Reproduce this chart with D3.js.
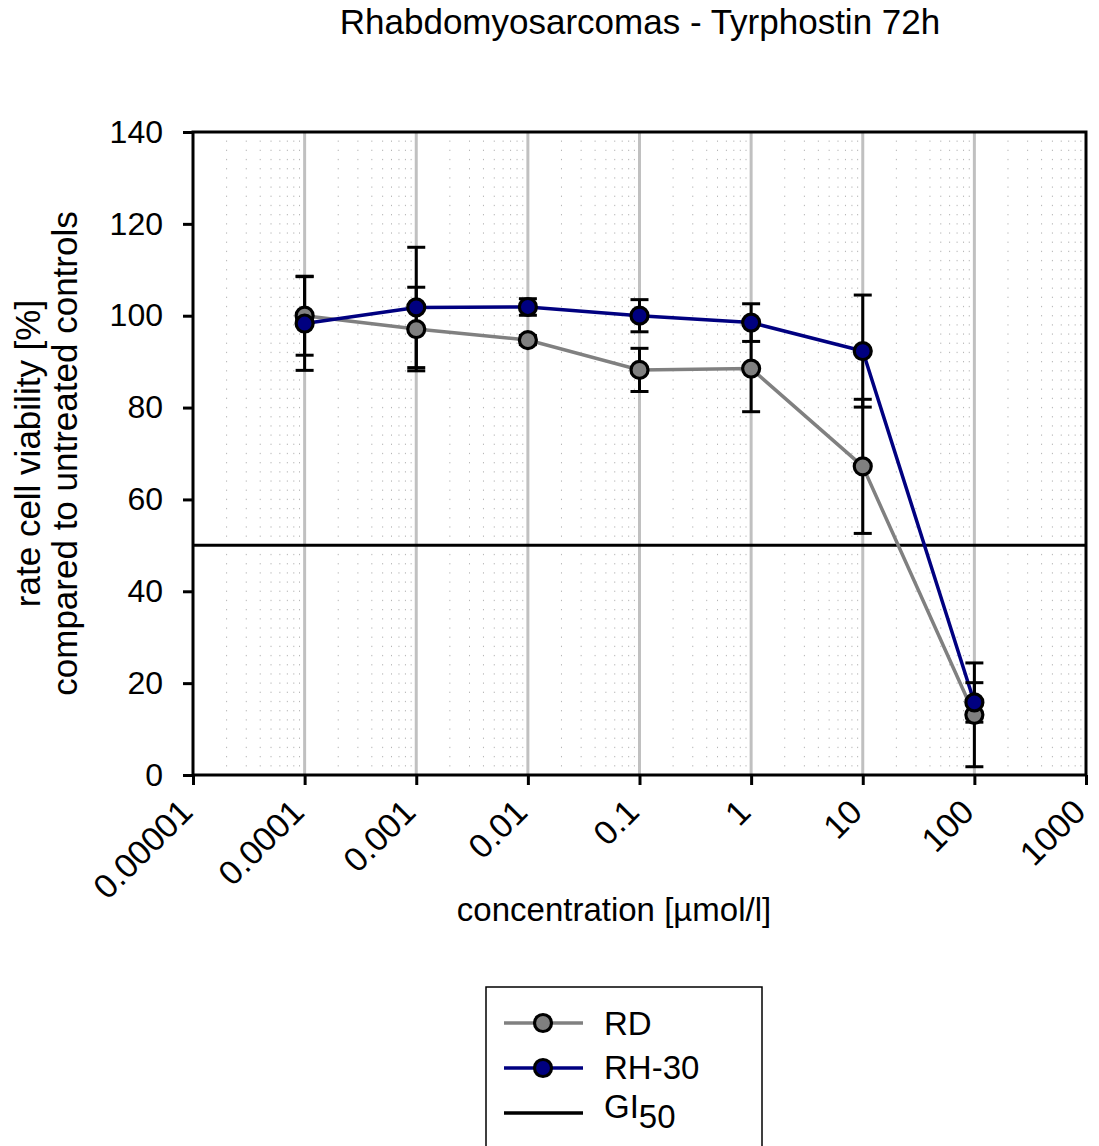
<!DOCTYPE html>
<html lang="en">
  <head>
    <meta charset="UTF-8" />
    <title>Rhabdomyosarcomas - Tyrphostin 72h</title>
    <script src="https://d3js.org/d3.v7.min.js"></script>
    <style>
      body {
        margin: 0;
        padding: 0;
        background: white;
        font-family: "Liberation Sans", Arial, sans-serif;
      }
      svg {
        display: block;
      }
      text {
        fill: black;
      }
    </style>
  </head>
  <body>
    <svg width="1099" height="1146"></svg>
    <script>
      // concentrations [µmol/l]
      const concentrations = [0.0001, 0.001, 0.01, 0.1, 1, 10, 100];
      const xTicks = [0.00001, 0.0001, 0.001, 0.01, 0.1, 1, 10, 100, 1000];
      const xTickLabels = ["0.00001", "0.0001", "0.001", "0.01", "0.1", "1", "10", "100", "1000"];
      const yTicks = [0, 20, 40, 60, 80, 100, 120, 140];

      const rdMean = [100.0, 97.1, 94.7, 88.2, 88.5, 67.2, 13.1];
      const rdErr = [8.6, 9.1, 1.0, 4.7, 9.4, 14.6, 11.3];
      const rh30Mean = [98.3, 101.8, 101.9, 100.0, 98.5, 92.3, 15.8];
      const rh30Err = [10.2, 13.1, 1.8, 3.5, 4.1, 12.2, 4.3];
      const gi50 = 50;

      const series = [
        { name: "RD", mean: rdMean, err: rdErr, color: "#808080" },
        { name: "RH-30", mean: rh30Mean, err: rh30Err, color: "#000080" },
      ];

      const svg = d3.select("svg");
      const plotLeft = 193,
        plotRight = 1086,
        plotTop = 132,
        plotBottom = 775;

      const x = d3.scaleLog().domain([0.00001, 1000]).range([plotLeft, plotRight]);
      const y = d3.scaleLinear().domain([0, 140]).range([plotBottom, plotTop]);

      // minor grid (dotted)
      const minorX = [];
      for (let e = -5; e < 3; e++) {
        for (let m = 2; m <= 9; m++) minorX.push(m * Math.pow(10, e));
      }
      const step = y(0) - y(2);
      svg
        .append("g")
        .selectAll("line")
        .data(minorX)
        .join("line")
        .attr("x1", (d) => x(d))
        .attr("x2", (d) => x(d))
        .attr("y1", plotBottom)
        .attr("y2", plotTop)
        .attr("stroke", "#b5b5b5")
        .attr("stroke-width", 1)
        .attr("stroke-dasharray", `1.3,${step - 1.3}`)
        .attr("stroke-dashoffset", 0.65);

      // major vertical grid
      svg
        .append("g")
        .selectAll("line")
        .data(xTicks.slice(1, -1))
        .join("line")
        .attr("x1", (d) => x(d))
        .attr("x2", (d) => x(d))
        .attr("y1", plotBottom)
        .attr("y2", plotTop)
        .attr("stroke", "#c0c0c0")
        .attr("stroke-width", 3);

      // GI50 line
      svg
        .append("line")
        .attr("x1", plotLeft)
        .attr("x2", plotRight)
        .attr("y1", y(gi50))
        .attr("y2", y(gi50))
        .attr("stroke", "black")
        .attr("stroke-width", 3);

      // axes
      const yAxis = d3
        .axisLeft(y)
        .tickValues(yTicks)
        .tickSize(10)
        .tickPadding(20)
        .tickSizeOuter(0);
      const gy = svg.append("g").attr("transform", `translate(${plotLeft},0)`).call(yAxis);
      gy.select(".domain").remove();
      gy.selectAll("line").attr("stroke", "black").attr("stroke-width", 3);
      gy.selectAll("text")
        .attr("font-size", 32)
        .attr("font-family", "Liberation Sans, Arial, sans-serif");

      const xAxis = d3
        .axisBottom(x)
        .tickValues(xTicks)
        .tickFormat((d, i) => xTickLabels[i])
        .tickSize(10)
        .tickSizeOuter(0);
      const gx = svg.append("g").attr("transform", `translate(0,${plotBottom})`).call(xAxis);
      gx.select(".domain").remove();
      gx.selectAll("line").attr("stroke", "black").attr("stroke-width", 3);
      gx.selectAll("text")
        .attr("font-size", 34)
        .attr("font-family", "Liberation Sans, Arial, sans-serif")
        .attr("text-anchor", "end")
        .attr("dy", 0)
        .attr("y", 0)
        .attr("transform", "translate(1,39) rotate(-45)");

      // frame
      svg
        .append("rect")
        .attr("x", plotLeft)
        .attr("y", plotTop)
        .attr("width", plotRight - plotLeft)
        .attr("height", plotBottom - plotTop)
        .attr("fill", "none")
        .attr("stroke", "black")
        .attr("stroke-width", 3);

      // series lines
      const line = d3
        .line()
        .x((d) => x(d.c))
        .y((d) => y(d.v));

      series.forEach((s) => {
        s.points = concentrations.map((c, i) => ({ c: c, v: s.mean[i], e: s.err[i] }));
      });

      series.forEach((s) => {
        svg
          .append("path")
          .datum(s.points)
          .attr("d", line)
          .attr("fill", "none")
          .attr("stroke", s.color)
          .attr("stroke-width", 3.5);
      });

      // error bars
      const cap = 9;
      series.forEach((s) => {
        const g = svg.append("g").attr("stroke", "black").attr("stroke-width", 3);
        s.points.forEach((p) => {
          const cx = x(p.c);
          g.append("line")
            .attr("x1", cx)
            .attr("x2", cx)
            .attr("y1", y(p.v - p.e))
            .attr("y2", y(p.v + p.e));
          [p.v - p.e, p.v + p.e].forEach((v) => {
            g.append("line")
              .attr("x1", cx - cap)
              .attr("x2", cx + cap)
              .attr("y1", y(v))
              .attr("y2", y(v));
          });
        });
      });

      // markers
      series.forEach((s) => {
        svg
          .append("g")
          .selectAll("circle")
          .data(s.points)
          .join("circle")
          .attr("cx", (d) => x(d.c))
          .attr("cy", (d) => y(d.v))
          .attr("r", 8.5)
          .attr("fill", s.color)
          .attr("stroke", "black")
          .attr("stroke-width", 3.2);
      });

      // title and axis labels
      svg
        .append("text")
        .attr("x", 640)
        .attr("y", 34)
        .attr("text-anchor", "middle")
        .attr("font-size", 35)
        .text("Rhabdomyosarcomas - Tyrphostin 72h");

      svg
        .append("text")
        .attr("x", 614)
        .attr("y", 921)
        .attr("text-anchor", "middle")
        .attr("font-size", 33)
        .text("concentration [µmol/l]");

      const yl = svg
        .append("text")
        .attr("transform", `translate(40,${(plotTop + plotBottom) / 2}) rotate(-90)`)
        .attr("text-anchor", "middle")
        .attr("font-size", 35);
      yl.append("tspan").attr("x", 0).attr("dy", 0).text("rate cell viability [%]");
      yl.append("tspan").attr("x", 0).attr("dy", 37).text("compared to untreated controls");

      // legend
      const lg = svg.append("g");
      lg.append("rect")
        .attr("x", 486)
        .attr("y", 987)
        .attr("width", 276)
        .attr("height", 175)
        .attr("fill", "white")
        .attr("stroke", "black")
        .attr("stroke-width", 1.5);

      const legendItems = [
        { label: "RD", color: "#808080", marker: true, ly: 1023, ty: 1035 },
        { label: "RH-30", color: "#000080", marker: true, ly: 1068, ty: 1079 },
        { label: "GI", sub: "50", color: "black", marker: false, ly: 1113, ty: 1118 },
      ];
      legendItems.forEach((it) => {
        lg.append("line")
          .attr("x1", 504)
          .attr("x2", 583)
          .attr("y1", it.ly)
          .attr("y2", it.ly)
          .attr("stroke", it.color)
          .attr("stroke-width", 3.5);
        if (it.marker) {
          lg.append("circle")
            .attr("cx", 543)
            .attr("cy", it.ly)
            .attr("r", 8.5)
            .attr("fill", it.color)
            .attr("stroke", "black")
            .attr("stroke-width", 3.2);
        }
        const t = lg
          .append("text")
          .attr("x", 604)
          .attr("y", it.ty)
          .attr("font-size", 33)
          .text(it.label);
        if (it.sub) {
          t.append("tspan").attr("dy", 10).attr("font-size", 33).text(it.sub);
        }
      });
    </script>
  </body>
</html>
